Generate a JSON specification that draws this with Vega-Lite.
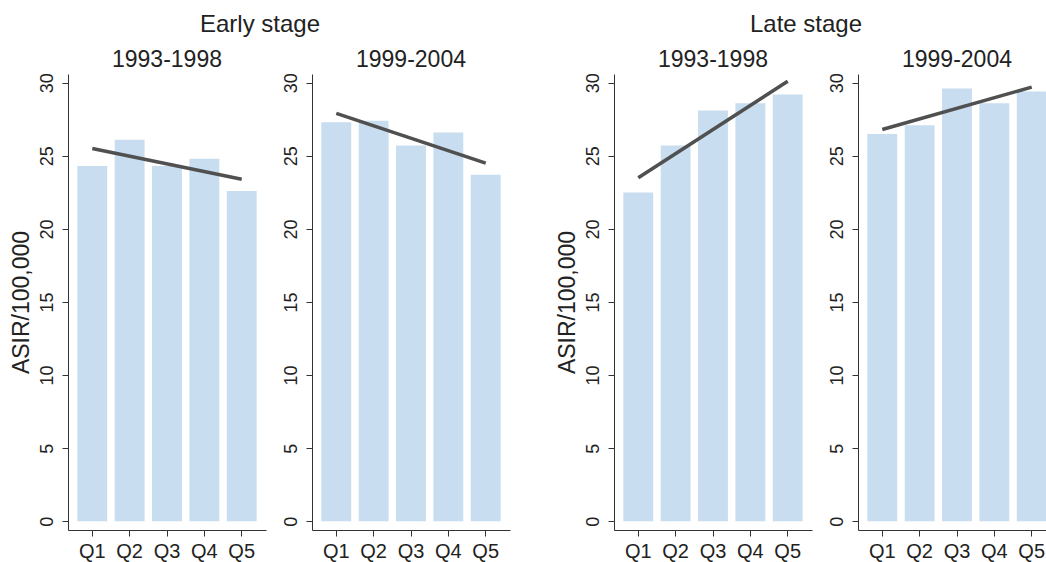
{
  "$schema": "https://vega.github.io/schema/vega-lite/v6.json",
  "background": "white",
  "padding": {"left": 10, "top": 12, "right": 0, "bottom": 5},
  "config": {
    "view": {"stroke": null},
    "font": "Liberation Sans",
    "axis": {"grid": false, "domainColor": "#333333", "tickColor": "#333333", "labelColor": "#222222", "titleColor": "#222222", "titleFontWeight": "normal", "tickSize": 6},
    "title": {"fontWeight": "normal", "color": "#222222", "anchor": "middle"}
  },
  "data": {"values": [
    {"stage": "Early", "period": "1993-1998", "Q": "Q1", "asir": 24.3, "fit": 25.5},
    {"stage": "Early", "period": "1993-1998", "Q": "Q2", "asir": 26.1, "fit": null},
    {"stage": "Early", "period": "1993-1998", "Q": "Q3", "asir": 24.3, "fit": null},
    {"stage": "Early", "period": "1993-1998", "Q": "Q4", "asir": 24.8, "fit": null},
    {"stage": "Early", "period": "1993-1998", "Q": "Q5", "asir": 22.6, "fit": 23.4},
    {"stage": "Early", "period": "1999-2004", "Q": "Q1", "asir": 27.3, "fit": 27.9},
    {"stage": "Early", "period": "1999-2004", "Q": "Q2", "asir": 27.4, "fit": null},
    {"stage": "Early", "period": "1999-2004", "Q": "Q3", "asir": 25.7, "fit": null},
    {"stage": "Early", "period": "1999-2004", "Q": "Q4", "asir": 26.6, "fit": null},
    {"stage": "Early", "period": "1999-2004", "Q": "Q5", "asir": 23.7, "fit": 24.5},
    {"stage": "Late", "period": "1993-1998", "Q": "Q1", "asir": 22.5, "fit": 23.5},
    {"stage": "Late", "period": "1993-1998", "Q": "Q2", "asir": 25.7, "fit": null},
    {"stage": "Late", "period": "1993-1998", "Q": "Q3", "asir": 28.1, "fit": null},
    {"stage": "Late", "period": "1993-1998", "Q": "Q4", "asir": 28.6, "fit": null},
    {"stage": "Late", "period": "1993-1998", "Q": "Q5", "asir": 29.2, "fit": 30.1},
    {"stage": "Late", "period": "1999-2004", "Q": "Q1", "asir": 26.5, "fit": 26.8},
    {"stage": "Late", "period": "1999-2004", "Q": "Q2", "asir": 27.1, "fit": null},
    {"stage": "Late", "period": "1999-2004", "Q": "Q3", "asir": 29.6, "fit": null},
    {"stage": "Late", "period": "1999-2004", "Q": "Q4", "asir": 28.6, "fit": null},
    {"stage": "Late", "period": "1999-2004", "Q": "Q5", "asir": 29.4, "fit": 29.7}
  ]},
  "spacing": 46,
  "hconcat": [
    {
      "title": {"text": "Early stage", "fontSize": 24, "offset": 12},
      "spacing": 16,
      "hconcat": [
        {
          "title": {"text": "1993-1998", "fontSize": 23, "offset": 1},
          "width": 198, "height": 456,
          "transform": [{"filter": "datum.stage == 'Early' && datum.period == '1993-1998'"}],
          "encoding": {
            "x": {"field": "Q", "type": "ordinal", "scale": {"paddingInner": 0.2, "paddingOuter": 0.25},
                  "axis": {"title": null, "labelAngle": 0, "labelFontSize": 20, "labelPadding": 5}}
          },
          "layer": [
            {"mark": {"type": "bar", "color": "#c8ddf0"},
             "encoding": {"y": {"field": "asir", "type": "quantitative", "scale": {"domain": [-0.6, 30.6], "nice": false, "zero": false},
               "axis": {"title": "ASIR/100,000", "titleFontSize": 23, "titlePadding": 5, "values": [0, 5, 10, 15, 20, 25, 30], "labelAngle": -90, "labelFontSize": 18, "labelPadding": 6}}}},
            {"transform": [{"filter": "datum.fit != null"}],
             "mark": {"type": "line", "color": "#505050", "strokeWidth": 3.5},
             "encoding": {"y": {"field": "fit", "type": "quantitative"}}}
          ]
        },
        {
          "title": {"text": "1999-2004", "fontSize": 23, "offset": 1},
          "width": 198, "height": 456,
          "transform": [{"filter": "datum.stage == 'Early' && datum.period == '1999-2004'"}],
          "encoding": {
            "x": {"field": "Q", "type": "ordinal", "scale": {"paddingInner": 0.2, "paddingOuter": 0.25},
                  "axis": {"title": null, "labelAngle": 0, "labelFontSize": 20, "labelPadding": 5}}
          },
          "layer": [
            {"mark": {"type": "bar", "color": "#c8ddf0"},
             "encoding": {"y": {"field": "asir", "type": "quantitative", "scale": {"domain": [-0.6, 30.6], "nice": false, "zero": false},
               "axis": {"title": null, "values": [0, 5, 10, 15, 20, 25, 30], "labelAngle": -90, "labelFontSize": 18, "labelPadding": 6}}}},
            {"transform": [{"filter": "datum.fit != null"}],
             "mark": {"type": "line", "color": "#505050", "strokeWidth": 3.5},
             "encoding": {"y": {"field": "fit", "type": "quantitative"}}}
          ]
        }
      ]
    },
    {
      "title": {"text": "Late stage", "fontSize": 24, "offset": 12},
      "spacing": 16,
      "hconcat": [
        {
          "title": {"text": "1993-1998", "fontSize": 23, "offset": 1},
          "width": 198, "height": 456,
          "transform": [{"filter": "datum.stage == 'Late' && datum.period == '1993-1998'"}],
          "encoding": {
            "x": {"field": "Q", "type": "ordinal", "scale": {"paddingInner": 0.2, "paddingOuter": 0.25},
                  "axis": {"title": null, "labelAngle": 0, "labelFontSize": 20, "labelPadding": 5}}
          },
          "layer": [
            {"mark": {"type": "bar", "color": "#c8ddf0"},
             "encoding": {"y": {"field": "asir", "type": "quantitative", "scale": {"domain": [-0.6, 30.6], "nice": false, "zero": false},
               "axis": {"title": "ASIR/100,000", "titleFontSize": 23, "titlePadding": 5, "values": [0, 5, 10, 15, 20, 25, 30], "labelAngle": -90, "labelFontSize": 18, "labelPadding": 6}}}},
            {"transform": [{"filter": "datum.fit != null"}],
             "mark": {"type": "line", "color": "#505050", "strokeWidth": 3.5},
             "encoding": {"y": {"field": "fit", "type": "quantitative"}}}
          ]
        },
        {
          "title": {"text": "1999-2004", "fontSize": 23, "offset": 1},
          "width": 198, "height": 456,
          "transform": [{"filter": "datum.stage == 'Late' && datum.period == '1999-2004'"}],
          "encoding": {
            "x": {"field": "Q", "type": "ordinal", "scale": {"paddingInner": 0.2, "paddingOuter": 0.25},
                  "axis": {"title": null, "labelAngle": 0, "labelFontSize": 20, "labelPadding": 5}}
          },
          "layer": [
            {"mark": {"type": "bar", "color": "#c8ddf0"},
             "encoding": {"y": {"field": "asir", "type": "quantitative", "scale": {"domain": [-0.6, 30.6], "nice": false, "zero": false},
               "axis": {"title": null, "values": [0, 5, 10, 15, 20, 25, 30], "labelAngle": -90, "labelFontSize": 18, "labelPadding": 6}}}},
            {"transform": [{"filter": "datum.fit != null"}],
             "mark": {"type": "line", "color": "#505050", "strokeWidth": 3.5},
             "encoding": {"y": {"field": "fit", "type": "quantitative"}}}
          ]
        }
      ]
    }
  ]
}
